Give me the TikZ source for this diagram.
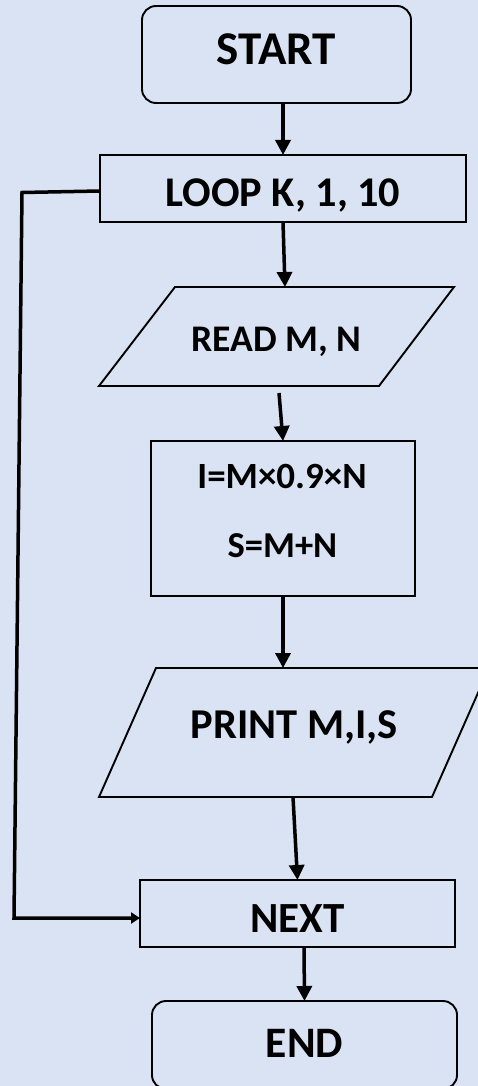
\documentclass[tikz,border=0pt]{standalone}
\usepackage{fontspec}
\setmainfont{Carlito}
\usetikzlibrary{arrows.meta,calc}
\definecolor{bg}{HTML}{DAE3F3}
\begin{document}
\begin{tikzpicture}[x=1pt,y=-1pt,
  every node/.style={inner sep=0pt, outer sep=0pt},
  boxst/.style={draw=black, line width=1.9pt, rectangle},
  termst/.style={boxst, rounded corners=14pt},
  arr/.style={draw=black, line width=3.5pt, -{Triangle[length=15pt,width=15pt]}},
  looparr/.style={draw=black, line width=3.5pt, -{Triangle[length=9pt,width=11pt]}},
  fs/.style={font=\fontsize{#1}{#1}\selectfont\bfseries, text depth=0pt}
]
\fill[bg] (0,0) rectangle (478,1086);
\useasboundingbox (0,0) rectangle (478,1086);

\node[termst, minimum width=269pt, minimum height=97pt, fs=47, text height=21pt] (start) at (276.5,54.5) {START};
\node[boxst, minimum width=366pt, minimum height=67pt, fs=42.3, text height=37pt] (loop) at (283,188.5) {LOOP K, 1, 10};
\node[minimum width=355pt, minimum height=99pt, fs=37.6, text height=29pt] (read) at (276.5,336.5) {READ M, N};
\draw[boxst] (read.south west) -- ([xshift=76pt]read.north west) -- (read.north east) -- ([xshift=-75pt]read.south east) -- cycle;
\node[boxst, minimum width=264pt, minimum height=155pt] (calc) at (283,518.5) {};
\node[fs=37, anchor=base] (calcA) at (282,488) {I=M×0.9×N};
\node[fs=36.5, anchor=base] (calcB) at (282.5,557) {S=M+N};
\node[minimum width=390pt, minimum height=129pt, fs=42.5, text height=11pt] (print) at (294,732.5) {PRINT M,I,S};
\draw[boxst] (print.south west) -- ([xshift=57pt]print.north west) -- (print.north east) -- ([xshift=-57pt]print.south east) -- cycle;
\node[boxst, minimum width=315pt, minimum height=67pt, fs=43, text height=37pt] (next) at (297.5,913.5) {NEXT};
\node[termst, minimum width=305pt, minimum height=88pt, fs=43.5, text height=24pt] (stop) at (304.5,1045) {END};

\draw[arr] ([xshift=6.5pt]start.south) -- (loop.north);
\draw[arr] (loop.south) -- ([xshift=8.5pt]read.north);
\draw[arr] ([xshift=2.5pt,yshift=-7pt]read.south) -- (calc.north);
\draw[arr] (calc.south) -- ([xshift=-11pt]print.north);
\draw[arr] ([xshift=-1pt]print.south) -- (next.north);
\draw[arr] ([xshift=6.5pt]next.south) -- (stop.north);

\coordinate (c1) at (22,192.5);
\coordinate (c2) at (14,918);
\draw[looparr] ([yshift=-2.5pt]loop.west) -- (c1) -- (c2) -- ([yshift=-4.5pt]next.west);
\end{tikzpicture}
\end{document}
